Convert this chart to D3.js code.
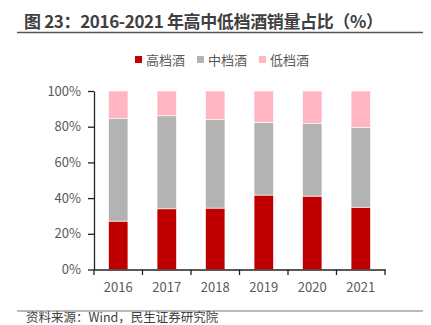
<!DOCTYPE html>
<html><head><meta charset="utf-8">
<script src="https://cdn.jsdelivr.net/npm/d3@7"></script>
<style>body{margin:0;background:#fff}svg{display:block}</style>
</head><body>
<script>
const years = ["2016","2017","2018","2019","2020","2021"];
const seriesNames = ["高档酒","中档酒","低档酒"];
const high = [27.1, 34.0, 34.4, 41.7, 41.1, 34.9];
const mid = [57.4, 52.1, 49.5, 40.7, 40.6, 44.7];
const low = [15.5, 13.9, 16.1, 17.6, 18.3, 20.4];
const colors = ["#C00000", "#B3B3B3", "#FFB6C1"];
const yTicks = [0, 20, 40, 60, 80, 100];

const W = 431, H = 325;
const svg = d3.select("body").append("svg").attr("width", W).attr("height", H);
const font = "'Noto Sans CJK SC', 'Noto Sans', sans-serif";

// Title
svg.append("text").attr("x", 24).attr("y", 28).attr("font-family", font)
  .attr("font-weight", "bold").attr("font-size", 17).attr("fill", "#404040")
  .attr("textLength", 359).attr("lengthAdjust", "spacing")
  .text("图 23：2016-2021 年高中低档酒销量占比（%）");
svg.append("line").attr("x1", 17).attr("x2", 423).attr("y1", 32.5).attr("y2", 32.5)
  .attr("stroke", "#555").attr("stroke-width", 1.5);

// scales
const x = d3.scaleBand().domain(years).range([94, 385]).paddingInner(0.6).paddingOuter(0.3);
const y = d3.scaleLinear().domain([0, 100]).range([269.5, 91]);

const data = years.map((yr, i) => ({year: yr, "高档酒": high[i], "中档酒": mid[i], "低档酒": low[i]}));
const stack = d3.stack().keys(seriesNames)(data);

svg.append("g").selectAll("g").data(stack).join("g")
  .attr("fill", (d, i) => colors[i])
  .selectAll("rect").data(d => d).join("rect")
  .attr("x", d => x(d.data.year)).attr("width", x.bandwidth())
  .attr("y", d => y(d[1])).attr("height", d => y(d[0]) - y(d[1]))
  .attr("stroke", "#fff").attr("stroke-width", 0.6);

// y axis
const yAxis = svg.append("g").attr("transform", "translate(94,0)")
  .call(d3.axisLeft(y).tickValues(yTicks).tickFormat(d => d + "%").tickSize(6).tickSizeOuter(0));
yAxis.select(".domain").attr("stroke", "#222").attr("stroke-width", 1.3);
yAxis.selectAll(".tick line").attr("stroke", "#222").attr("stroke-width", 1.3);
yAxis.selectAll(".tick text").attr("font-family", font).attr("font-size", 13)
  .attr("fill", "#595959").attr("x", -13);

// x axis
const xAxis = svg.append("g").attr("transform", "translate(0,269.5)")
  .call(d3.axisBottom(x).tickSize(0).tickSizeOuter(0));
xAxis.select(".domain").attr("stroke", "#222").attr("stroke-width", 1.3);
xAxis.selectAll(".tick text").attr("font-family", font).attr("font-size", 13)
  .attr("fill", "#595959").attr("dy", "1.5em");
// boundary ticks between categories
const bounds = d3.range(years.length + 1).map(i => 94 + i * (385 - 94) / years.length);
svg.append("g").selectAll("line").data(bounds).join("line")
  .attr("x1", d => d).attr("x2", d => d).attr("y1", 269.5).attr("y2", 275)
  .attr("stroke", "#222").attr("stroke-width", 1.3);

// legend
const legX = [135, 197, 259];
const leg = svg.append("g").selectAll("g").data(seriesNames).join("g")
  .attr("transform", (d, i) => `translate(${legX[i]},60)`);
leg.append("rect").attr("x", 0).attr("y", -4).attr("width", 7).attr("height", 7)
  .attr("fill", (d, i) => colors[i]);
leg.append("text").attr("x", 11).attr("y", 4.5).attr("font-family", font)
  .attr("font-size", 13).attr("fill", "#595959").text(d => d);

// footer
svg.append("line").attr("x1", 17).attr("x2", 423).attr("y1", 311).attr("y2", 311)
  .attr("stroke", "#777").attr("stroke-width", 1.2);
svg.append("text").attr("x", 26).attr("y", 322).attr("font-family", font)
  .attr("font-size", 12.5).attr("fill", "#404040").text("资料来源：Wind，民生证券研究院");
</script>
</body></html>
